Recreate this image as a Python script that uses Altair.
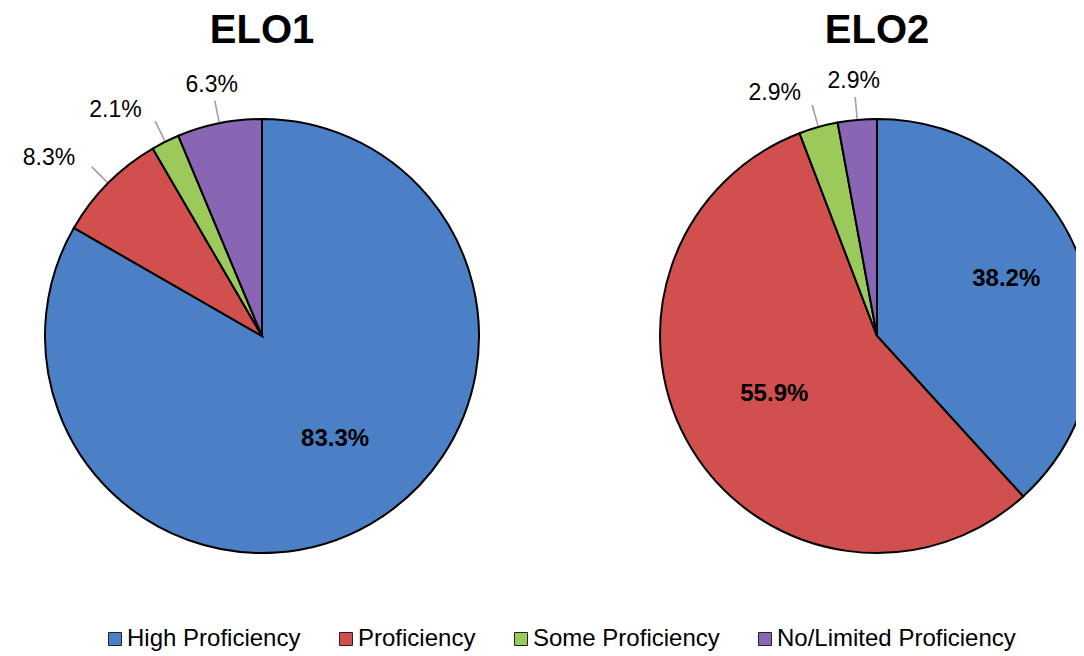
import math
import altair as alt
import pandas as pd

elos = ["ELO1", "ELO2"]
categories = ["High Proficiency", "Proficiency", "Some Proficiency", "No/Limited Proficiency"]
elo1_values = [83.3, 8.3, 2.1, 6.3]
elo2_values = [38.2, 55.9, 2.9, 2.9]
colors = ["#4C80C6", "#D14F4C", "#9BC95A", "#8966B3"]

rows = []
for elo, vals in zip(elos, [elo1_values, elo2_values]):
    total = sum(vals)
    cum = 0.0
    for i, (cat, v) in enumerate(zip(categories, vals)):
        a0 = cum / total * 2 * math.pi
        cum += v
        a1 = cum / total * 2 * math.pi
        rows.append(dict(elo=elo, category=cat, order=i, value=v,
                         label=f"{v:.1f}%", a0=a0, a1=a1, mid=(a0 + a1) / 2))
df = pd.DataFrame(rows)
titles_df = pd.DataFrame({"elo": elos})

FONT = "Liberation Sans"
x_enc = alt.X("elo:N", scale=alt.Scale(type="point", domain=elos, range=[254, 869], padding=0), axis=None)
CY = 328
R = 217

base = alt.Chart(df)

pies = base.mark_arc(outerRadius=R, stroke="black", strokeWidth=2).encode(
    x=x_enc,
    y=alt.value(CY),
    theta=alt.Theta("a0:Q", scale=None),
    theta2="a1:Q",
    color=alt.Color(
        "category:N",
        scale=alt.Scale(domain=categories, range=colors),
        legend=alt.Legend(
            orient="none", legendX=95, legendY=619, direction="horizontal",
            title=None, symbolType="square", symbolSize=169,
            symbolStrokeColor="#222", symbolStrokeWidth=1,
            labelFont=FONT, labelFontSize=24, labelColor="black",
            labelOffset=0, columnPadding=33, padding=0, labelLimit=400,
        ),
    ),
)

leaders = base.transform_filter("datum.value < 20").transform_calculate(
    la="datum.mid - 0.0035", lb="datum.mid + 0.0035"
).mark_arc(innerRadius=R + 1, outerRadius=240, fill="#a0a0a0").encode(
    x=x_enc,
    y=alt.value(CY),
    theta=alt.Theta("la:Q", scale=None),
    theta2="lb:Q",
)

inside = base.transform_filter("datum.value >= 20").mark_text(
    font=FONT, fontSize=24, fontWeight="bold", color="black", baseline="middle", align="center",
    dx=8, dy=-10,
).encode(
    x=x_enc, y=alt.value(CY),
    theta=alt.Theta("mid:Q", scale=None),
    radius=alt.value(130),
    text="label:N",
)

outside_right = base.transform_filter("datum.value < 20 && datum.mid < 6.05").mark_text(
    font=FONT, fontSize=23, color="black", baseline="middle", align="right", dx=-8
).encode(
    x=x_enc, y=alt.value(CY),
    theta=alt.Theta("mid:Q", scale=None),
    radius=alt.value(252),
    text="label:N",
)

outside_center = base.transform_filter("datum.value < 20 && datum.mid >= 6.05").mark_text(
    font=FONT, fontSize=23, color="black", baseline="middle", align="center"
).encode(
    x=x_enc, y=alt.value(CY),
    theta=alt.Theta("mid:Q", scale=None),
    radius=alt.value(256),
    text="label:N",
)

titles = alt.Chart(titles_df).mark_text(
    font=FONT, fontSize=40, fontWeight="bold", color="black", baseline="alphabetic", align="center"
).encode(x=x_enc, y=alt.value(35), text="elo:N")

chart = alt.layer(pies, leaders, inside, outside_right, outside_center, titles).properties(
    width=1068, height=645, autosize=alt.AutoSizeParams(type="none"), padding=0
).configure_view(stroke=None)

chart.save("out.html", embed_options={"renderer": "svg", "actions": False})
